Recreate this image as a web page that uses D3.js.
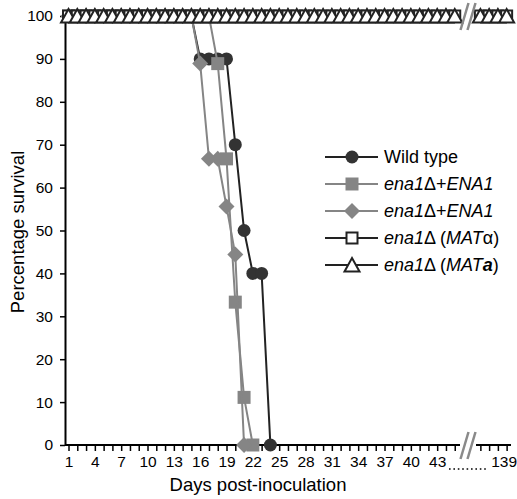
<!DOCTYPE html>
<html lang="en">
<head>
  <meta charset="UTF-8">
  <title>Survival</title>
  <script src="https://d3js.org/d3.v7.min.js"></script>
  <style>
    body { margin: 0; background: #fff; }
    svg { display: block; font-family: "Liberation Sans", Arial, sans-serif; }
    .tick text { font-size: 15.5px; fill: #000; }
  </style>
</head>
<body>
  <div id="chart"></div>
  <script>
    // days where the never-dying strains were scored
    const allDays = [1, 2, 3, 4, 5, 6, 7, 8, 9, 10, 11, 12, 13, 14, 15, 16, 17, 18, 19, 20,
      21, 22, 23, 24, 25, 26, 27, 28, 29, 30, 31, 32, 33, 34, 35, 36, 37, 38, 39, 40,
      41, 42, 43, 44, 45, 136, 137, 138, 139];
    const allHundred = [100, 100, 100, 100, 100, 100, 100, 100, 100, 100, 100, 100, 100, 100, 100,
      100, 100, 100, 100, 100, 100, 100, 100, 100, 100, 100, 100, 100, 100, 100, 100, 100, 100,
      100, 100, 100, 100, 100, 100, 100, 100, 100, 100, 100, 100, 100, 100, 100, 100];

    const wtDays = [1, 2, 3, 4, 5, 6, 7, 8, 9, 10, 11, 12, 13, 14, 15, 16, 17, 18, 19, 20, 21, 22, 23, 24];
    const wtVals = [100, 100, 100, 100, 100, 100, 100, 100, 100, 100, 100, 100, 100, 100, 100,
      90, 90, 90, 90, 70, 50, 40, 40, 0];

    const sqDays = [1, 2, 3, 4, 5, 6, 7, 8, 9, 10, 11, 12, 13, 14, 15, 16, 17, 18, 19, 20, 21, 22];
    const sqVals = [100, 100, 100, 100, 100, 100, 100, 100, 100, 100, 100, 100, 100, 100, 100,
      100, 100, 88.9, 66.7, 33.3, 11.1, 0];

    const diDays = [1, 2, 3, 4, 5, 6, 7, 8, 9, 10, 11, 12, 13, 14, 15, 16, 17, 18, 19, 20, 21];
    const diVals = [100, 100, 100, 100, 100, 100, 100, 100, 100, 100, 100, 100, 100, 100, 100,
      88.9, 66.7, 66.7, 55.6, 44.4, 0];

    const xLabelDays = [1, 4, 7, 10, 13, 16, 19, 22, 25, 28, 31, 34, 37, 40, 43, 139];
    const yTicks = [0, 10, 20, 30, 40, 50, 60, 70, 80, 90, 100];

    const W = 517, H = 499;
    const dark = '#222', grey = '#858585';

    const svg = d3.select('#chart').append('svg')
      .attr('width', W).attr('height', H);

    // broken x axis: days 0.6-45.6, then 135.5-139.5
    const x = d3.scaleLinear()
      .domain([0.6, 45.6, 135.5, 139.5])
      .range([65, 460, 476, 511]);
    const y = d3.scaleLinear().domain([0, 100]).range([445, 16]);

    // y axis
    const yAxis = svg.append('g')
      .attr('transform', 'translate(65,0)')
      .call(d3.axisLeft(y).tickValues(yTicks).tickSize(5).tickPadding(7).tickSizeOuter(0));
    yAxis.select('.domain').attr('stroke', '#000').attr('stroke-width', 2);
    yAxis.selectAll('.tick line').attr('stroke-width', 1.5);

    // x axis
    const xAxis = svg.append('g')
      .attr('transform', 'translate(0,445)')
      .call(d3.axisBottom(x).tickValues(allDays).tickSize(6).tickPadding(5)
        .tickFormat(d => xLabelDays.includes(d) ? d : ''));
    xAxis.select('.domain').remove();
    xAxis.selectAll('.tick line').attr('stroke-width', 1.5);
    xAxis.selectAll('.tick text').filter(d => !xLabelDays.includes(d)).remove();
    xAxis.selectAll('.tick text').filter(d => d === 139).attr('dx', -3);
    [[65, 460], [476, 511]].forEach(([a, b]) => {
      xAxis.append('line').attr('x1', a).attr('x2', b)
        .attr('stroke', '#000').attr('stroke-width', 2);
    });
    // dotted leader between 43 and 139
    xAxis.append('line')
      .attr('x1', 449).attr('x2', 488).attr('y1', 24).attr('y2', 24)
      .attr('stroke', '#000').attr('stroke-width', 1.6)
      .attr('stroke-dasharray', '1.6,2.8');

    // series
    const series = [
      { days: wtDays, vals: wtVals, line: dark, shape: 'circle' },
      { days: sqDays, vals: sqVals, line: grey, shape: 'square' },
      { days: diDays, vals: diVals, line: grey, shape: 'diamond' },
      { days: allDays, vals: allHundred, line: dark, shape: 'opensquare' },
      { days: allDays, vals: allHundred, line: dark, shape: 'triangle' }
    ];

    function marker(g, shape) {
      if (shape === 'circle') {
        g.append('circle').attr('r', 6.5).attr('fill', '#333');
      } else if (shape === 'square') {
        g.append('rect').attr('x', -6.5).attr('y', -6.5).attr('width', 13).attr('height', 13).attr('fill', grey);
      } else if (shape === 'diamond') {
        g.append('path').attr('d', 'M0,-8L8,0L0,8L-8,0Z').attr('fill', grey);
      } else if (shape === 'opensquare') {
        g.append('rect').attr('x', -5.5).attr('y', -5.5).attr('width', 11).attr('height', 11)
          .attr('fill', '#fff').attr('stroke', dark).attr('stroke-width', 2);
      } else {
        g.append('path').attr('d', 'M0,-7L7.5,6.5L-7.5,6.5Z')
          .attr('fill', '#fff').attr('stroke', dark).attr('stroke-width', 2);
      }
    }

    series.forEach(s => {
      const pts = s.days.map((d, i) => [d, s.vals[i]]);
      // don't draw a line across the axis break
      const segs = [pts.filter(p => p[0] < 100), pts.filter(p => p[0] > 100)];
      segs.forEach(seg => {
        if (seg.length < 2) return;
        svg.append('path')
          .datum(seg)
          .attr('fill', 'none')
          .attr('stroke', s.line)
          .attr('stroke-width', 2)
          .attr('d', d3.line().x(p => x(p[0])).y(p => y(p[1])));
      });
      pts.forEach(p => {
        const g = svg.append('g').attr('transform', `translate(${x(p[0])},${y(p[1])})`);
        marker(g, s.shape);
      });
    });

    // axis break marks
    const bx = (x(45.6) + x(135.5)) / 2;
    [y(100), 445].forEach(cy => {
      [-3.5, 3.5].forEach(off => {
        svg.append('line')
          .attr('x1', bx + off - 4).attr('y1', cy + 14)
          .attr('x2', bx + off + 4).attr('y2', cy - 13)
          .attr('stroke', '#8a8a8a').attr('stroke-width', 2.5);
      });
    });

    // axis titles
    svg.append('text')
      .attr('x', 258).attr('y', 491).attr('text-anchor', 'middle')
      .attr('font-size', 18.5).text('Days post-inoculation');
    svg.append('text')
      .attr('transform', 'translate(24,232) rotate(-90)').attr('text-anchor', 'middle')
      .attr('font-size', 18.5).text('Percentage survival');

    // legend
    const legendItems = [
      { shape: 'circle', line: dark, parts: [['Wild type', 'normal', 'normal']] },
      { shape: 'square', line: grey, parts: [['ena1', 'italic', 'normal'], ['Δ+', 'normal', 'normal'], ['ENA1', 'italic', 'normal']] },
      { shape: 'diamond', line: grey, parts: [['ena1', 'italic', 'normal'], ['Δ+', 'normal', 'normal'], ['ENA1', 'italic', 'normal']] },
      { shape: 'opensquare', line: dark, parts: [['ena1', 'italic', 'normal'], ['Δ (', 'normal', 'normal'], ['MAT', 'italic', 'normal'], ['α', 'normal', 'normal'], [')', 'normal', 'normal']] },
      { shape: 'triangle', line: dark, parts: [['ena1', 'italic', 'normal'], ['Δ (', 'normal', 'normal'], ['MAT', 'italic', 'normal'], ['a', 'italic', 'bold'], [')', 'normal', 'normal']] }
    ];
    const legend = svg.append('g').attr('transform', 'translate(325,157)');
    legendItems.forEach((it, i) => {
      const g = legend.append('g').attr('transform', `translate(0,${i * 27})`);
      g.append('line').attr('x1', 0).attr('x2', 53)
        .attr('stroke', it.line).attr('stroke-width', 2);
      marker(g.append('g').attr('transform', 'translate(27,0)'), it.shape);
      const t = g.append('text').attr('x', 59).attr('y', 6).attr('font-size', 18);
      it.parts.forEach(([txt, st, wt]) => {
        t.append('tspan').attr('font-style', st).attr('font-weight', wt).text(txt);
      });
    });
  </script>
</body>
</html>
